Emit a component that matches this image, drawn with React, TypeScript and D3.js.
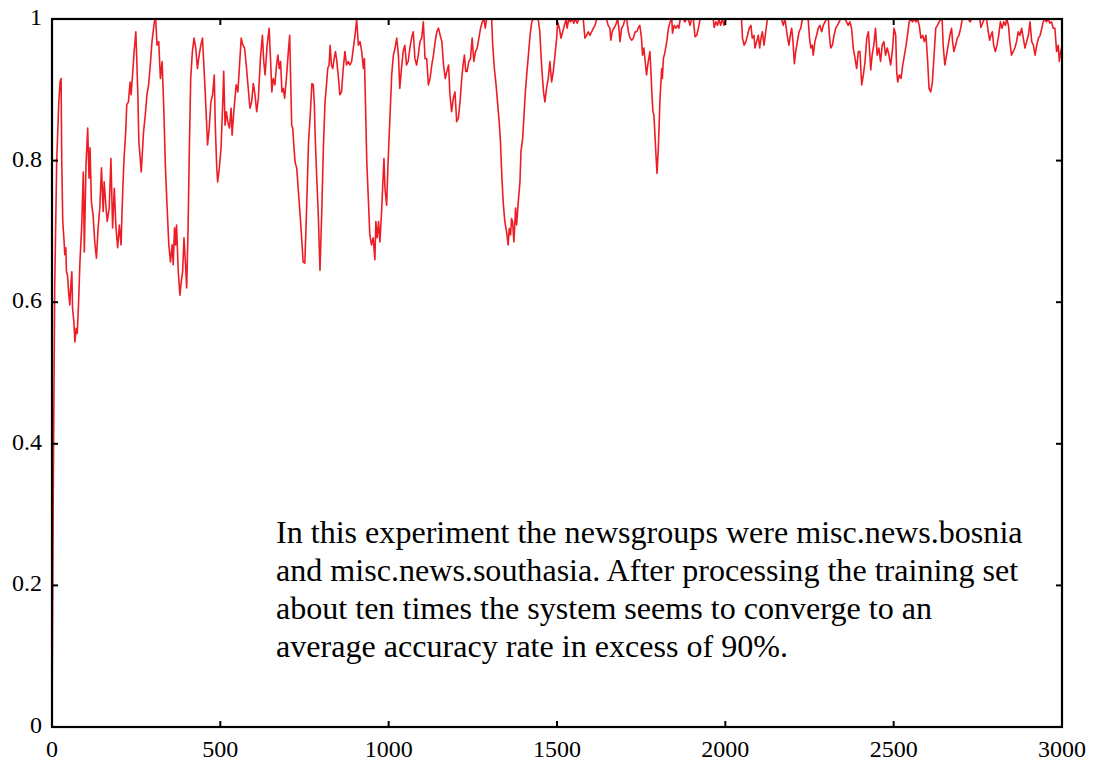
import React from "react";
import * as d3 from "d3";

// [iteration, accuracy] samples
const accuracyPoints: [number, number][] = [
  [0, 0], [4, 0.35], [8, 0.62], [14, 0.8], [20, 0.88], [24, 0.911], [27, 0.916], [29, 0.798], [32, 0.714], [36, 0.685],
  [38, 0.667], [41, 0.677], [43, 0.643], [46, 0.638], [50, 0.61], [53, 0.596], [56, 0.624], [59, 0.643], [61, 0.592], [65, 0.572],
  [68, 0.544], [72, 0.563], [75, 0.556], [79, 0.6], [83, 0.657], [88, 0.705], [93, 0.784], [96, 0.671], [101, 0.794], [106, 0.846],
  [110, 0.775], [113, 0.818], [117, 0.742], [122, 0.723], [127, 0.685], [132, 0.662], [137, 0.705], [142, 0.733], [147, 0.79], [152, 0.728],
  [155, 0.77], [160, 0.737], [164, 0.714], [170, 0.733], [175, 0.803], [180, 0.705], [185, 0.761], [190, 0.705], [195, 0.677], [200, 0.709],
  [205, 0.681], [210, 0.756], [214, 0.803], [219, 0.841], [222, 0.879], [227, 0.883], [232, 0.911], [235, 0.893], [240, 0.926], [244, 0.954],
  [249, 0.982], [252, 0.94], [255, 0.893], [258, 0.827], [262, 0.803], [265, 0.784], [268, 0.808], [272, 0.841], [277, 0.864], [282, 0.893],
  [287, 0.907], [292, 0.935], [297, 0.968], [304, 0.996], [308, 1.0], [312, 0.963], [317, 0.968], [322, 0.916], [327, 0.94], [332, 0.874],
  [337, 0.789], [342, 0.733], [347, 0.681], [352, 0.657], [357, 0.681], [360, 0.653], [364, 0.705], [367, 0.681], [370, 0.709], [375, 0.643],
  [380, 0.61], [384, 0.629], [388, 0.643], [392, 0.691], [395, 0.667], [400, 0.62], [404, 0.7], [408, 0.817], [412, 0.916], [417, 0.954],
  [422, 0.973], [427, 0.959], [432, 0.93], [437, 0.949], [442, 0.963], [447, 0.973], [452, 0.926], [455, 0.897], [459, 0.855], [462, 0.822],
  [467, 0.846], [472, 0.883], [477, 0.893], [482, 0.921], [485, 0.85], [489, 0.794], [492, 0.77], [497, 0.789], [502, 0.817], [507, 0.879],
  [510, 0.926], [514, 0.85], [518, 0.869], [522, 0.855], [527, 0.846], [532, 0.874], [535, 0.836], [540, 0.869], [547, 0.907], [552, 0.897],
  [557, 0.935], [562, 0.973], [567, 0.963], [572, 0.959], [577, 0.935], [582, 0.907], [588, 0.874], [593, 0.883], [598, 0.909], [603, 0.893],
  [608, 0.869], [613, 0.888], [619, 0.944], [625, 0.977], [629, 0.94], [633, 0.921], [639, 0.963], [645, 0.987], [649, 0.944], [653, 0.897],
  [657, 0.916], [662, 0.907], [667, 0.935], [671, 0.949], [675, 0.93], [679, 0.94], [683, 0.897], [687, 0.902], [691, 0.888], [697, 0.921],
  [702, 0.954], [706, 0.977], [709, 0.911], [712, 0.85], [715, 0.846], [719, 0.817], [722, 0.798], [727, 0.789], [732, 0.756], [737, 0.723],
  [741, 0.695], [746, 0.657], [751, 0.655], [756, 0.728], [762, 0.827], [767, 0.864], [772, 0.909], [776, 0.907], [779, 0.883], [782, 0.831],
  [786, 0.78], [791, 0.723], [796, 0.645], [801, 0.723], [806, 0.817], [811, 0.883], [816, 0.911], [819, 0.93], [823, 0.935], [826, 0.963],
  [830, 0.935], [834, 0.93], [838, 0.944], [842, 0.954], [845, 0.944], [850, 0.921], [855, 0.893], [860, 0.897], [865, 0.93], [870, 0.954],
  [875, 0.935], [880, 0.94], [885, 0.935], [890, 0.94], [895, 0.959], [900, 0.977], [905, 0.999], [910, 0.963], [915, 0.968], [920, 0.954],
  [925, 0.93], [928, 0.944], [931, 0.883], [935, 0.798], [940, 0.742], [944, 0.695], [949, 0.681], [954, 0.691], [959, 0.66], [962, 0.714],
  [966, 0.691], [970, 0.714], [974, 0.685], [979, 0.728], [982, 0.761], [986, 0.803], [989, 0.761], [994, 0.737], [998, 0.794], [1004, 0.864],
  [1009, 0.921], [1014, 0.949], [1019, 0.959], [1024, 0.973], [1029, 0.949], [1033, 0.902], [1038, 0.93], [1043, 0.954], [1048, 0.963], [1053, 0.935],
  [1058, 0.94], [1063, 0.959], [1068, 0.973], [1073, 0.982], [1078, 0.944], [1083, 0.935], [1088, 0.949], [1093, 0.968], [1098, 0.973], [1103, 0.996],
  [1108, 0.944], [1113, 0.944], [1118, 0.907], [1123, 0.916], [1128, 0.935], [1133, 0.949], [1138, 0.968], [1143, 0.982], [1148, 0.987], [1153, 0.977],
  [1158, 0.968], [1163, 0.935], [1168, 0.916], [1173, 0.926], [1178, 0.935], [1182, 0.893], [1187, 0.869], [1192, 0.888], [1197, 0.897], [1202, 0.855],
  [1207, 0.86], [1212, 0.883], [1217, 0.916], [1221, 0.935], [1225, 0.949], [1229, 0.926], [1233, 0.926], [1238, 0.94], [1243, 0.944], [1248, 0.973],
  [1253, 0.94], [1258, 0.954], [1263, 0.959], [1268, 0.973], [1273, 0.987], [1278, 0.996], [1283, 1.0], [1287, 0.987], [1291, 1.0], [1301, 1.0],
  [1306, 1.0], [1309, 0.963], [1314, 0.93], [1319, 0.907], [1324, 0.879], [1329, 0.85], [1332, 0.827], [1336, 0.78], [1340, 0.742], [1345, 0.714],
  [1350, 0.7], [1355, 0.681], [1358, 0.704], [1362, 0.695], [1365, 0.718], [1368, 0.714], [1372, 0.685], [1377, 0.733], [1380, 0.709], [1385, 0.742],
  [1390, 0.77], [1393, 0.813], [1398, 0.831], [1402, 0.864], [1406, 0.897], [1410, 0.921], [1415, 0.949], [1420, 0.977], [1425, 0.996], [1430, 1.0],
  [1444, 1.0], [1449, 0.982], [1453, 0.944], [1457, 0.916], [1460, 0.897], [1464, 0.883], [1469, 0.902], [1474, 0.916], [1479, 0.94], [1484, 0.911],
  [1489, 0.926], [1494, 0.949], [1499, 0.973], [1502, 0.996], [1507, 0.987], [1512, 0.973], [1517, 0.982], [1522, 0.991], [1527, 1.0], [1530, 0.987],
  [1535, 1.0], [1540, 0.996], [1545, 1.0], [1550, 0.994], [1555, 1.0], [1560, 0.994], [1565, 1.0], [1573, 1.0], [1578, 1.0], [1583, 0.973],
  [1588, 0.977], [1593, 0.982], [1598, 0.977], [1603, 0.982], [1608, 0.987], [1613, 0.991], [1618, 1.0], [1647, 1.0], [1652, 0.991], [1657, 0.987],
  [1660, 0.97], [1664, 0.982], [1669, 0.987], [1674, 0.991], [1680, 1.0], [1684, 0.987], [1687, 0.968], [1692, 0.987], [1697, 0.991], [1702, 1.0],
  [1707, 1.0], [1712, 0.982], [1717, 0.973], [1722, 0.97], [1727, 0.973], [1732, 0.982], [1737, 0.982], [1741, 0.987], [1746, 0.991], [1751, 0.973],
  [1754, 0.949], [1758, 0.959], [1763, 0.935], [1766, 0.921], [1771, 0.94], [1776, 0.954], [1779, 0.926], [1782, 0.893], [1785, 0.869], [1788, 0.864],
  [1791, 0.836], [1794, 0.808], [1797, 0.782], [1801, 0.817], [1806, 0.888], [1811, 0.93], [1813, 0.916], [1816, 0.944], [1821, 0.954], [1826, 0.968],
  [1831, 0.987], [1836, 0.996], [1841, 1.0], [1843, 0.98], [1848, 0.991], [1853, 0.987], [1858, 0.991], [1862, 0.987], [1866, 1.0], [1875, 1.0],
  [1880, 0.996], [1885, 1.0], [1890, 1.0], [1895, 0.991], [1900, 1.0], [1905, 1.0], [1910, 0.975], [1915, 0.977], [1920, 0.987], [1925, 1.0],
  [1964, 1.0], [1967, 0.988], [1972, 0.996], [1977, 0.991], [1981, 1.0], [1986, 0.991], [1991, 1.0], [1996, 0.991], [2001, 1.0], [2048, 1.0],
  [2051, 0.973], [2056, 0.963], [2061, 0.968], [2066, 0.977], [2071, 0.987], [2076, 0.991], [2080, 0.973], [2085, 0.977], [2088, 0.959], [2093, 0.968],
  [2098, 0.977], [2102, 0.959], [2106, 0.973], [2110, 0.982], [2115, 0.963], [2120, 0.982], [2125, 1.0], [2167, 1.0], [2172, 0.991], [2177, 1.0],
  [2181, 0.987], [2185, 0.973], [2189, 0.963], [2193, 0.977], [2197, 0.987], [2201, 0.968], [2205, 0.937], [2209, 0.954], [2214, 0.968], [2219, 0.982],
  [2224, 0.987], [2229, 1.0], [2246, 1.0], [2250, 0.973], [2254, 0.959], [2258, 0.963], [2261, 0.949], [2266, 0.968], [2271, 0.977], [2276, 0.987],
  [2281, 0.991], [2286, 0.982], [2291, 0.991], [2296, 0.996], [2301, 1.0], [2306, 1.0], [2309, 0.977], [2313, 0.959], [2318, 0.963], [2323, 0.977],
  [2328, 0.987], [2333, 0.991], [2338, 0.996], [2342, 1.0], [2355, 1.0], [2360, 0.996], [2365, 0.991], [2370, 0.996], [2375, 0.987], [2380, 0.959],
  [2385, 0.945], [2390, 0.93], [2395, 0.954], [2400, 0.954], [2405, 0.907], [2410, 0.921], [2415, 0.94], [2420, 0.973], [2425, 0.982], [2428, 0.959],
  [2432, 0.928], [2436, 0.949], [2441, 0.963], [2446, 0.987], [2451, 0.949], [2456, 0.959], [2461, 0.94], [2466, 0.963], [2471, 0.968], [2476, 0.949],
  [2481, 0.959], [2486, 0.949], [2491, 0.935], [2496, 0.954], [2501, 0.987], [2506, 0.977], [2509, 0.926], [2512, 0.911], [2517, 0.921], [2522, 0.916],
  [2527, 0.935], [2532, 0.949], [2537, 0.963], [2541, 0.977], [2546, 0.996], [2551, 1.0], [2556, 0.996], [2561, 1.0], [2566, 0.996], [2571, 1.0],
  [2576, 0.991], [2581, 0.973], [2586, 0.977], [2591, 0.968], [2596, 0.977], [2601, 0.94], [2605, 0.902], [2610, 0.897], [2615, 0.911], [2620, 0.949],
  [2625, 0.987], [2630, 0.991], [2635, 0.996], [2640, 1.0], [2644, 1.0], [2647, 0.963], [2652, 0.935], [2657, 0.949], [2662, 0.963], [2667, 0.977],
  [2672, 0.987], [2675, 0.968], [2679, 0.954], [2684, 0.963], [2689, 0.973], [2694, 0.977], [2699, 0.987], [2704, 1.0], [2722, 1.0], [2727, 0.996],
  [2732, 1.0], [2756, 1.0], [2759, 0.988], [2764, 0.994], [2769, 1.0], [2776, 1.0], [2781, 0.982], [2785, 0.97], [2789, 0.977], [2793, 0.982],
  [2797, 0.963], [2802, 0.954], [2807, 0.963], [2812, 0.977], [2817, 0.996], [2822, 0.987], [2827, 0.996], [2832, 0.991], [2836, 1.0], [2841, 0.991],
  [2845, 0.968], [2850, 0.949], [2855, 0.954], [2860, 0.959], [2865, 0.968], [2870, 0.982], [2875, 0.977], [2880, 0.987], [2885, 0.973], [2890, 0.959],
  [2895, 0.968], [2900, 0.977], [2905, 0.996], [2910, 0.968], [2915, 0.963], [2920, 0.949], [2925, 0.963], [2930, 0.973], [2935, 0.977], [2940, 0.987],
  [2944, 0.996], [2949, 1.0], [2954, 0.996], [2959, 1.0], [2964, 0.994], [2969, 0.996], [2974, 0.987], [2979, 0.987], [2984, 0.954], [2989, 0.963],
  [2992, 0.94], [2996, 0.954], [3000, 0.96],
];

const xTicks = [0, 500, 1000, 1500, 2000, 2500, 3000];
const yTicks = [0, 0.2, 0.4, 0.6, 0.8, 1];
const yTickLabels = ["0", "0.2", "0.4", "0.6", "0.8", "1"];
const noteLines = [
  "In this experiment the newsgroups were misc.news.bosnia",
  "and misc.news.southasia. After processing the training set",
  "about ten times the system seems to converge to an",
  "average accuracy rate in excess of 90%.",
];

const W = 1094;
const H = 762;
const M = { left: 52, right: 1062, top: 19, bottom: 727 };
const FONT = "'Liberation Serif', 'Times New Roman', serif";

export default function App() {
  const x = d3.scaleLinear().domain([0, 3000]).range([M.left, M.right]);
  const y = d3.scaleLinear().domain([0, 1]).range([M.bottom, M.top]);
  const line = d3
    .line<[number, number]>()
    .x((d) => x(d[0]))
    .y((d) => y(d[1]));
  const tickLen = 6;

  return (
    <svg
      width={W}
      height={H}
      style={{ position: "absolute", left: 0, top: 0, background: "#fff" }}
      fontFamily={FONT}
    >
      <rect x={0} y={0} width={W} height={H} fill="#fff" />
      <path d={line(accuracyPoints) || ""} fill="none" stroke="#ee1d25" strokeWidth={1.6} strokeLinejoin="round" />
      {/* frame */}
      <rect
        x={M.left}
        y={M.top}
        width={M.right - M.left}
        height={M.bottom - M.top}
        fill="none"
        stroke="#000"
        strokeWidth={2.2}
      />
      {/* y ticks */}
      {yTicks.map((t, i) => (
        <g key={"y" + i}>
          <line x1={M.left} x2={M.left + tickLen} y1={y(t)} y2={y(t)} stroke="#000" strokeWidth={2} />
          <line x1={M.right} x2={M.right - tickLen} y1={y(t)} y2={y(t)} stroke="#000" strokeWidth={2} />
          <text x={42} y={y(t) - 2} textAnchor="end" dominantBaseline="central" fontSize={24} fill="#000">
            {yTickLabels[i]}
          </text>
        </g>
      ))}
      {/* x ticks */}
      {xTicks.map((t, i) => (
        <g key={"x" + i}>
          <line x1={x(t)} x2={x(t)} y1={M.bottom} y2={M.bottom - tickLen} stroke="#000" strokeWidth={2} />
          <line x1={x(t)} x2={x(t)} y1={M.top} y2={M.top + tickLen} stroke="#000" strokeWidth={2} />
          <text x={x(t)} y={757} textAnchor="middle" fontSize={24} fill="#000">
            {t}
          </text>
        </g>
      ))}
      {/* annotation */}
      {noteLines.map((s, i) => (
        <text key={"n" + i} x={276} y={543 + i * 38} fontSize={32.1} fill="#000">
          {s}
        </text>
      ))}
    </svg>
  );
}
